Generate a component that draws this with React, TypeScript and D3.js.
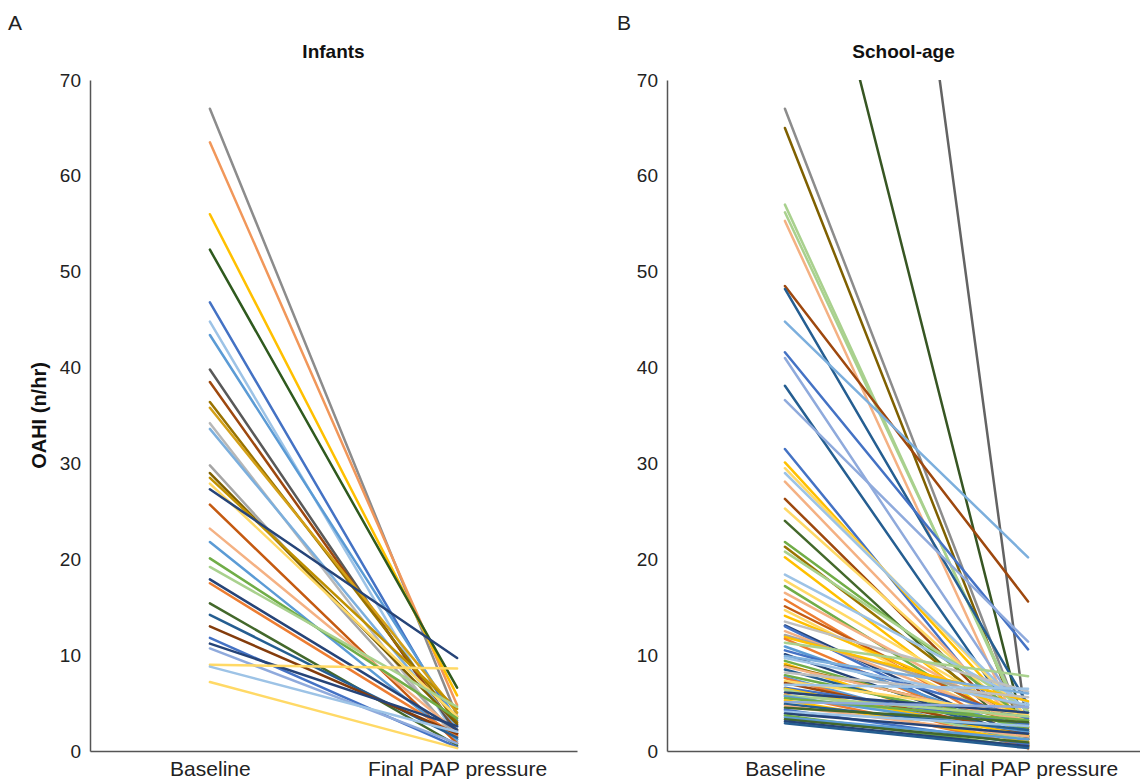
import { useEffect, useRef } from 'react';
import * as d3 from 'd3';

const categories = ['Baseline', 'Final PAP pressure'];
const yTicks = [0, 10, 20, 30, 40, 50, 60, 70];

// Infants: baseline OAHI, final OAHI, line colour (one entry per child)
const infantsBaseline = [67.0, 63.5, 56.0, 52.3, 46.8, 44.8, 43.4, 39.8, 38.5, 36.4, 35.8, 34.2, 33.6, 29.8, 29.0, 28.5, 27.9, 27.3, 25.7, 23.2, 21.8, 20.1, 19.2, 17.9, 17.5, 15.4, 14.2, 13.0, 11.8, 11.2, 10.7, 9.0, 8.8, 7.2];
const infantsFinal = [3.6, 4.8, 5.8, 6.6, 2.6, 1.2, 3.2, 1.8, 2.2, 3.0, 4.0, 1.0, 2.5, 1.5, 2.8, 4.4, 3.6, 9.7, 0.8, 2.0, 1.2, 3.4, 4.6, 2.2, 1.6, 0.6, 1.4, 1.8, 0.4, 2.6, 0.8, 8.6, 2.0, 0.3];
const infantsColor = ['#8c8c8c', '#f1975a', '#ffc000', '#2f5a1e', '#4472c4', '#9dc3e6', '#5b9bd5', '#595959', '#9e480e', '#997300', '#d4a017', '#b7b7b7', '#7cafdd', '#a5a5a5', '#7f6000', '#bf9000', '#ffd966', '#264478', '#c55a11', '#f4b183', '#5b9bd5', '#70ad47', '#a9d18e', '#264478', '#ed7d31', '#43682b', '#255e91', '#843c0c', '#4472c4', '#264478', '#8faadc', '#ffd966', '#9dc3e6', '#ffd966'];

// School-age
const schoolBaseline = [190, 101, 67.0, 65.0, 57.0, 56.2, 55.3, 48.5, 48.2, 44.8, 41.6, 41.0, 38.1, 36.6, 31.5, 30.1, 29.5, 29.0, 28.1, 26.3, 25.3, 24.0, 21.8, 21.3, 20.8, 20.2, 18.4, 17.8, 17.2, 16.5, 15.8, 15.1, 14.7, 14.1, 13.5, 13.1, 13.0, 12.5, 12.1, 11.9, 11.7, 11.3, 10.9, 10.5, 10.1, 9.9, 9.7, 9.4, 9.1, 8.9, 8.8, 8.5, 8.2, 7.9, 7.7, 7.6, 7.3, 7.1, 6.9, 6.6, 6.5, 6.4, 6.1, 5.9, 5.8, 5.7, 5.5, 5.3, 5.1, 4.9, 4.7, 4.5, 4.3, 4.1, 3.9, 3.7, 3.5, 3.3, 3.1, 2.9];
const schoolFinal = [1.5, 0.6, 1.4, 0.6, 1.8, 2.2, 0.2, 15.6, 4.8, 20.2, 10.6, 3.0, 1.5, 11.4, 0.5, 2.5, 3.5, 4.0, 1.8, 1.2, 2.6, 0.8, 3.2, 2.0, 4.2, 1.0, 5.0, 3.0, 1.5, 2.8, 0.8, 2.4, 1.9, 3.6, 6.2, 1.2, 0.4, 2.8, 4.5, 5.2, 0.9, 7.8, 2.0, 3.4, 1.3, 6.0, 4.8, 2.2, 0.6, 2.9, 3.0, 1.6, 5.6, 2.5, 0.8, 0.3, 3.8, 1.8, 6.5, 2.8, 1.6, 1.2, 4.0, 0.5, 3.6, 2.0, 3.2, 1.0, 4.6, 2.2, 1.5, 3.0, 0.7, 2.6, 1.8, 0.4, 1.2, 0.9, 0.5, 0.3];
const schoolColor = ['#636363', '#375623', '#8c8c8c', '#7f6000', '#a9d18e', '#a9d18e', '#f4b183', '#9e480e', '#255e91', '#7cafdd', '#4472c4', '#8faadc', '#255e91', '#8faadc', '#4472c4', '#ffc000', '#ffd966', '#9dc3e6', '#f4b183', '#9e480e', '#ffd966', '#43682b', '#70ad47', '#997300', '#a9d18e', '#ffc000', '#9dc3e6', '#ffd966', '#70ad47', '#f4b183', '#ed7d31', '#c55a11', '#ffd966', '#ffc000', '#bfbfbf', '#264478', '#4472c4', '#f4b183', '#a5a5a5', '#ffc000', '#ed7d31', '#a9d18e', '#5b9bd5', '#4472c4', '#264478', '#7cafdd', '#9dc3e6', '#70ad47', '#ffc000', '#997300', '#f4b183', '#255e91', '#bfbfbf', '#70ad47', '#5b9bd5', '#ed7d31', '#ffd966', '#9e480e', '#9dc3e6', '#4472c4', '#ffc000', '#a9d18e', '#264478', '#ed7d31', '#a9d18e', '#5b9bd5', '#70ad47', '#ffc000', '#8faadc', '#255e91', '#f4b183', '#43682b', '#4472c4', '#9dc3e6', '#264478', '#70ad47', '#5b9bd5', '#43682b', '#264478', '#255e91'];

const W = 1140;
const H = 779;
const FONT = '"Liberation Sans", Arial, Helvetica, sans-serif';

interface Panel {
  key: string;
  letter: string;
  letterX: number;
  title: string;
  x0: number;
  x1: number;
  baseline: number[];
  final: number[];
  colors: string[];
  showYLabel: boolean;
}

const panels: Panel[] = [
  { key: 'a', letter: 'A', letterX: 8, title: 'Infants', x0: 90, x1: 577, baseline: infantsBaseline, final: infantsFinal, colors: infantsColor, showYLabel: true },
  { key: 'b', letter: 'B', letterX: 617, title: 'School-age', x0: 667, x1: 1146, baseline: schoolBaseline, final: schoolFinal, colors: schoolColor, showYLabel: false },
];

export default function App() {
  const svgRef = useRef<SVGSVGElement>(null);

  useEffect(() => {
    if (!svgRef.current) return;
    const svg = d3.select(svgRef.current);
    svg.selectAll('*').remove();

    const yTop = 80;
    const yBottom = 751;
    const y = d3.scaleLinear().domain([0, 70]).range([yBottom, yTop]);

    panels.forEach(p => {
      const x = d3.scalePoint<string>().domain(categories).range([p.x0, p.x1]).padding(0.485);

      // panel letter
      svg.append('text')
        .attr('x', p.letterX)
        .attr('y', 30)
        .attr('font-family', FONT)
        .attr('font-size', '21px')
        .attr('fill', '#222')
        .text(p.letter);

      // title
      svg.append('text')
        .attr('x', (p.x0 + Math.min(p.x1, W)) / 2)
        .attr('y', 58)
        .attr('text-anchor', 'middle')
        .attr('font-family', FONT)
        .attr('font-size', '19px')
        .attr('font-weight', 'bold')
        .attr('fill', '#111')
        .text(p.title);

      const clipId = `clip-${p.key}`;
      svg.append('clipPath')
        .attr('id', clipId)
        .append('rect')
        .attr('x', p.x0)
        .attr('y', yTop)
        .attr('width', p.x1 - p.x0)
        .attr('height', yBottom - yTop);

      const rows = p.baseline.map((b, i) => ({ b, f: p.final[i], c: p.colors[i] }));
      const line = d3.line<[string, number]>()
        .x(d => x(d[0]) as number)
        .y(d => y(d[1]));

      svg.append('g')
        .attr('clip-path', `url(#${clipId})`)
        .selectAll('path')
        .data(rows)
        .join('path')
        .attr('d', d => line([[categories[0], d.b], [categories[1], d.f]]))
        .attr('fill', 'none')
        .attr('stroke', d => d.c)
        .attr('stroke-width', 2.5)
        .attr('stroke-linecap', 'round');

      // y axis
      const yAxis = svg.append('g')
        .attr('transform', `translate(${p.x0},0)`)
        .call(d3.axisLeft(y).tickValues(yTicks).tickSize(0).tickPadding(9));
      yAxis.select('.domain').attr('stroke', '#555').attr('stroke-width', 1.5);
      yAxis.selectAll('text')
        .attr('font-family', FONT)
        .attr('font-size', '19px')
        .attr('fill', '#222');

      // x axis
      const xAxis = svg.append('g')
        .attr('transform', `translate(0,${yBottom})`)
        .call(d3.axisBottom(x).tickSize(0).tickPadding(10));
      xAxis.select('.domain').attr('stroke', '#555').attr('stroke-width', 1.5);
      xAxis.selectAll('text')
        .attr('font-family', FONT)
        .attr('font-size', '21px')
        .attr('fill', '#222');

      if (p.showYLabel) {
        svg.append('text')
          .attr('transform', `translate(46,${(yTop + yBottom) / 2}) rotate(-90)`)
          .attr('text-anchor', 'middle')
          .attr('font-family', FONT)
          .attr('font-size', '20px')
          .attr('font-weight', 'bold')
          .attr('fill', '#111')
          .text('OAHI (n/hr)');
      }
    });
  }, []);

  return (
    <svg
      ref={svgRef}
      width={W}
      height={H}
      style={{ position: 'absolute', left: 0, top: 0, background: '#fff' }}
    />
  );
}
